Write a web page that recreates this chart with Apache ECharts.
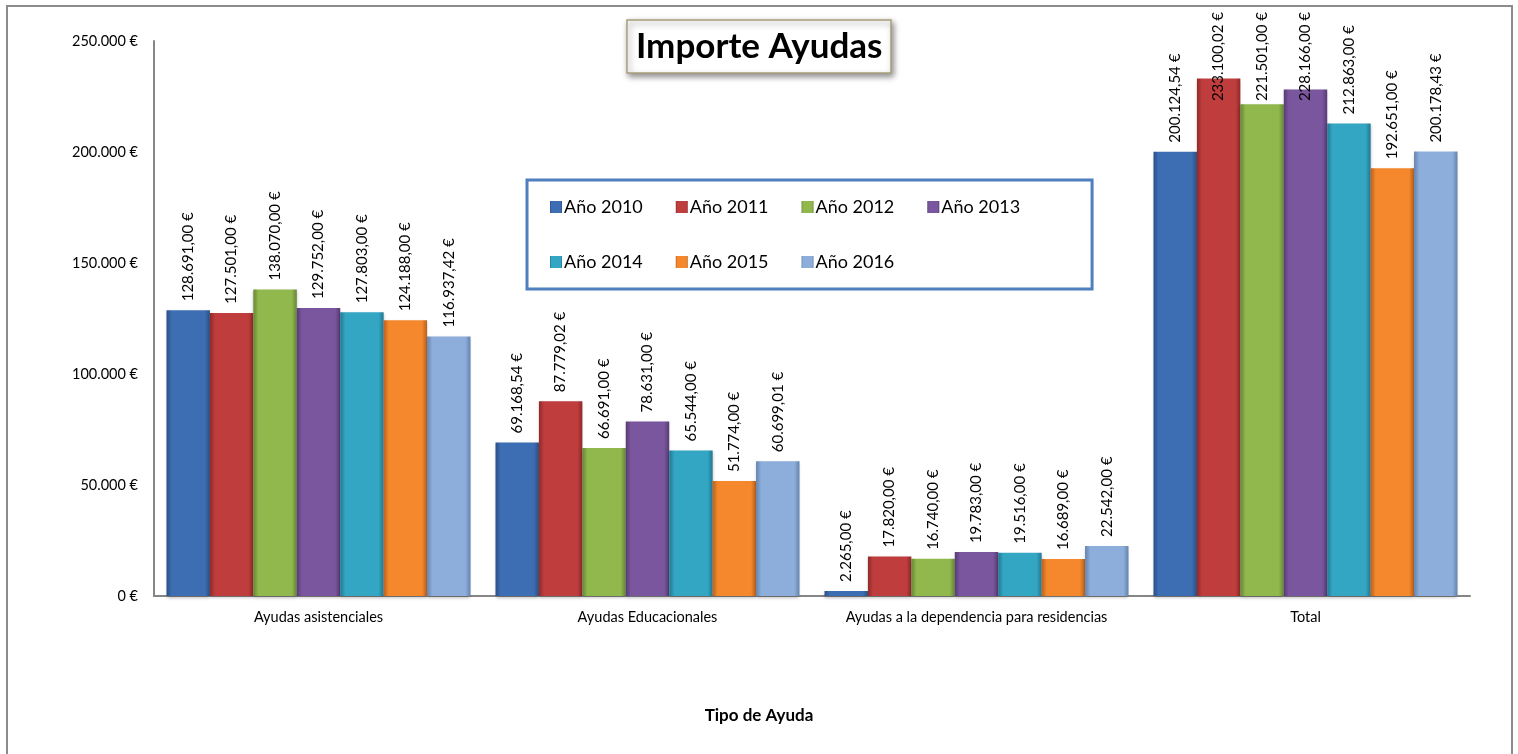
<!DOCTYPE html>
<html>
<head>
<meta charset="utf-8">
<script src="https://cdn.jsdelivr.net/npm/echarts@6/dist/echarts.min.js"></script>
<style>
  html, body { margin: 0; padding: 0; background: #fff; }
  #show { width: 1518px; height: 754px; }
</style>
</head>
<body>
<div id="show"></div>
<script>
var categorias = ['Ayudas asistenciales', 'Ayudas Educacionales', 'Ayudas a la dependencia para residencias', 'Total'];
var anios = ['Año 2010', 'Año 2011', 'Año 2012', 'Año 2013', 'Año 2014', 'Año 2015', 'Año 2016'];
var a2010 = [128691.00, 69168.54, 2265.00, 200124.54];
var a2011 = [127501.00, 87779.02, 17820.00, 233100.02];
var a2012 = [138070.00, 66691.00, 16740.00, 221501.00];
var a2013 = [129752.00, 78631.00, 19783.00, 228166.00];
var a2014 = [127803.00, 65544.00, 19516.00, 212863.00];
var a2015 = [124188.00, 51774.00, 16689.00, 192651.00];
var a2016 = [116937.42, 60699.01, 22542.00, 200178.43];
var valores = [a2010, a2011, a2012, a2013, a2014, a2015, a2016];
var colores = ['#3d6eb3', '#c03d3d', '#90b84c', '#7a569f', '#33a6c4', '#f5882c', '#8daedb'];
var oscuros = ['#2a4f85', '#8f2a2a', '#678635', '#563b74', '#227891', '#b8611c', '#6482ad'];

var fuente = 'Lato, "Open Sans", sans-serif';

function miles(n) {
    return String(n).replace(/\B(?=(\d{3})+(?!\d))/g, '.');
}
function euros(v) {
    var partes = v.toFixed(2).split('.');
    return miles(partes[0]) + ',' + partes[1] + ' €';
}

var myChart = echarts.init(document.getElementById('show'));

var series = [];
for (var i = 0; i < anios.length; i++) {
    series.push({
        name: anios[i],
        type: 'bar',
        data: valores[i],
        barGap: '0%',
        barCategoryGap: '7.6%',
        itemStyle: {
            color: new echarts.graphic.LinearGradient(0, 0, 1, 0, [
                {offset: 0, color: oscuros[i]},
                {offset: 0.12, color: colores[i]},
                {offset: 0.88, color: colores[i]},
                {offset: 1, color: oscuros[i]}
            ]),
            shadowColor: 'rgba(0,0,0,0.25)',
            shadowBlur: 3,
            shadowOffsetY: 2
        },
        label: {
            show: true,
            position: 'top',
            distance: 9,
            rotate: 90,
            align: 'left',
            verticalAlign: 'middle',
            color: '#000',
            fontSize: 15,
            fontFamily: fuente,
            formatter: function (p) { return euros(p.value); }
        },
        labelLayout: function (p) {
            // como Excel: la etiqueta no sale del borde superior
            var r = p.labelRect;
            if (r.y < 12) {
                return {x: r.x + r.width / 2, y: 12 + r.height};
            }
            return {};
        }
    });
}

var option = {
    animation: false,
    color: colores,
    title: [
        {
            text: 'Importe Ayudas',
            left: 627,
            top: 20,
            padding: [9, 9, 9, 9],
            backgroundColor: '#fff',
            borderColor: '#a89f7a',
            borderWidth: 1.5,
            shadowColor: 'rgba(0,0,0,0.45)',
            shadowBlur: 6,
            shadowOffsetX: 2,
            shadowOffsetY: 3,
            textStyle: {fontSize: 35, fontWeight: 'bold', color: '#000', fontFamily: fuente}
        },
        {
            text: 'Tipo de Ayuda',
            left: 'center',
            top: 702,
            textStyle: {fontSize: 17, fontWeight: 'bold', color: '#000', fontFamily: fuente}
        }
    ],
    legend: {
        data: anios,
        left: 527,
        top: 180,
        width: 540,
        orient: 'horizontal',
        padding: [16, 72, 16, 23],
        itemGap: 33,
        itemWidth: 12,
        itemHeight: 12,
        icon: 'rect',
        backgroundColor: '#fff',
        borderColor: '#4f7fbe',
        borderWidth: 3,
        textStyle: {fontSize: 18, lineHeight: 22, color: '#000', fontFamily: fuente, padding: [0, 0, 0, -3]}
    },
    grid: {left: 154, right: 48, top: 41, bottom: 158},
    xAxis: {
        type: 'category',
        data: categorias,
        axisLine: {lineStyle: {color: '#868686', width: 2}},
        axisTick: {show: false},
        axisLabel: {interval: 0, color: '#000', fontSize: 14.5, fontFamily: fuente, margin: 14}
    },
    yAxis: {
        type: 'value',
        min: 0,
        max: 250000,
        interval: 50000,
        axisLine: {show: true, lineStyle: {color: '#868686', width: 2}},
        axisTick: {show: false},
        splitLine: {show: false},
        axisLabel: {
            color: '#000', fontSize: 14.5, fontFamily: fuente, margin: 16,
            formatter: function (v) { return miles(v) + ' €'; }
        }
    },
    graphic: [{
        type: 'rect',
        z: -1,
        silent: true,
        shape: {x: 7, y: 6, width: 1505, height: 752},
        style: {fill: 'none', stroke: '#8c8c8c', lineWidth: 2}
    }],
    series: series
};
myChart.setOption(option);
</script>
</body>
</html>
